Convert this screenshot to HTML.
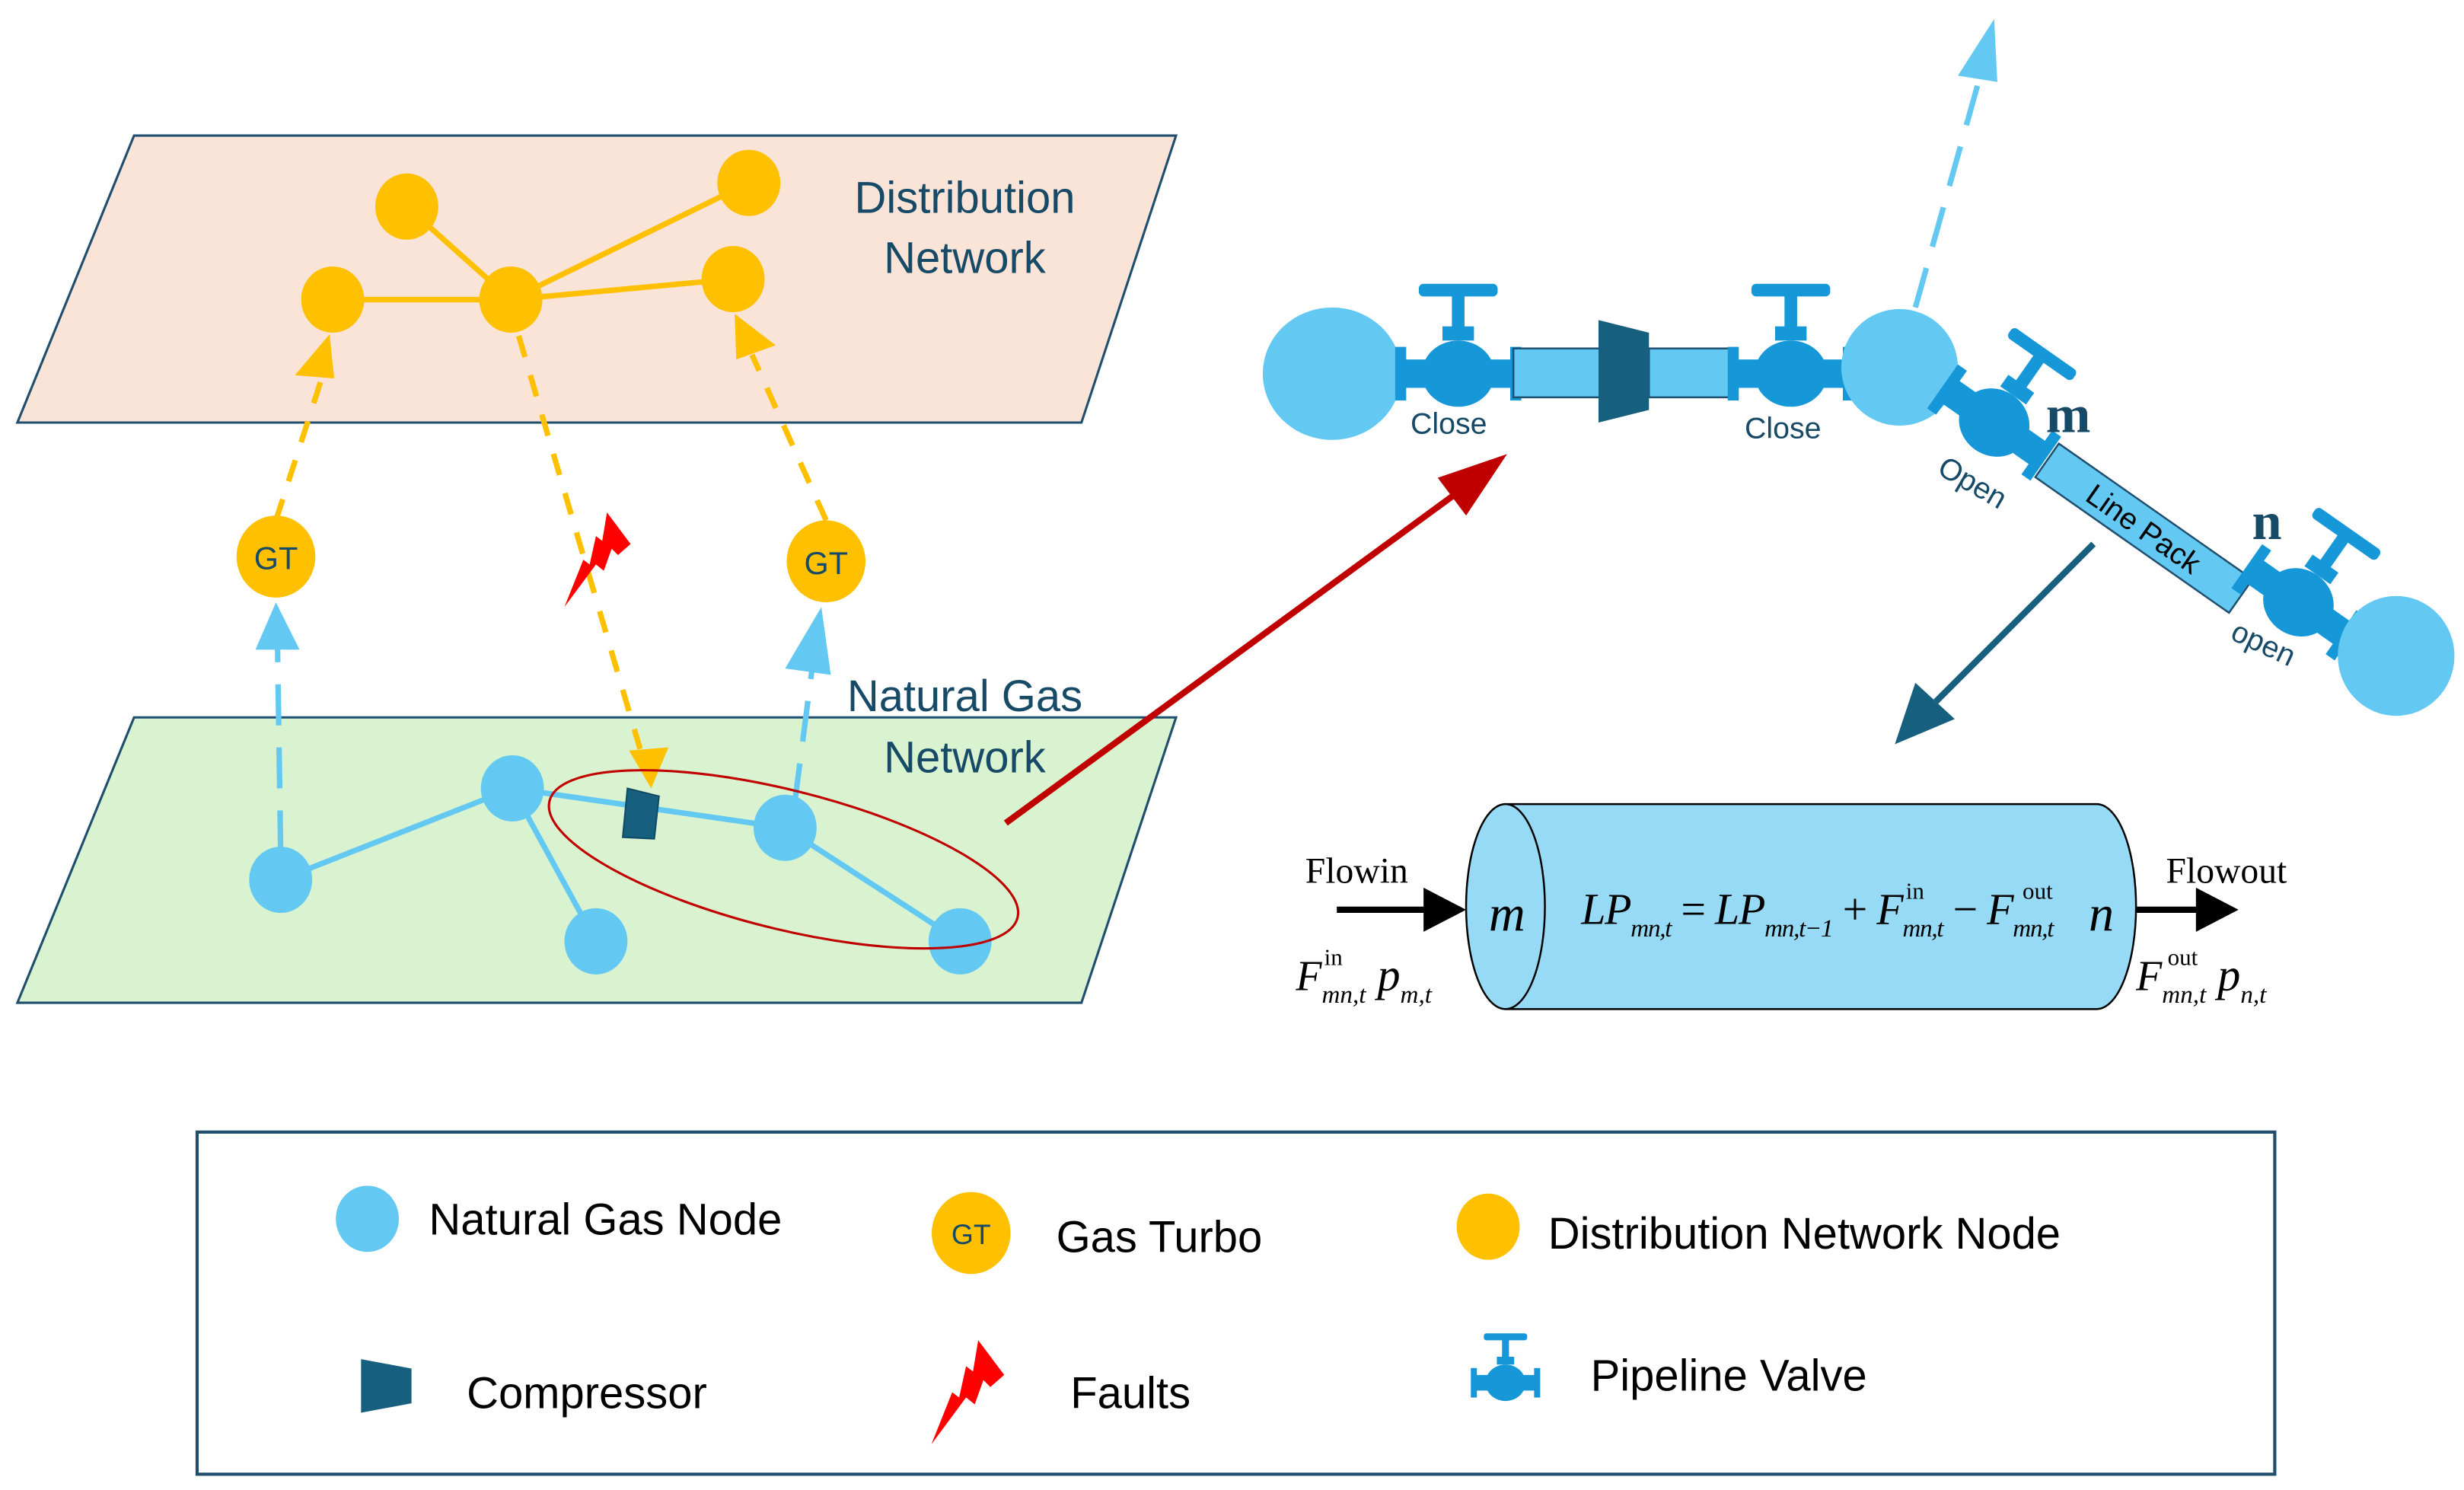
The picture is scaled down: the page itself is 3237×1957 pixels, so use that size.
<!DOCTYPE html>
<html><head><meta charset="utf-8"><style>
html,body{margin:0;padding:0;background:#fff;}
svg{display:block;}
.t{font-family:"Liberation Sans","DejaVu Sans",sans-serif;fill:#174a66;}
.s{font-family:"Liberation Serif",serif;fill:#000;}
.l{font-family:"Liberation Sans","DejaVu Sans",sans-serif;fill:#000;font-size:28px;}
</style></head><body>
<svg width="3237" height="1957" viewBox="0 0 1563 945" xmlns="http://www.w3.org/2000/svg">
<defs>
<g id="valve">
  <rect x="-25" y="-57" width="50" height="8" rx="3" fill="#1597d8"/>
  <rect x="-4" y="-50" width="8" height="22" fill="#1597d8"/>
  <rect x="-10" y="-30" width="20" height="9" fill="#1597d8"/>
  <rect x="-38" y="-9" width="76" height="18" fill="#1597d8"/>
  <ellipse cx="0" cy="0" rx="23" ry="21" fill="#1597d8"/>
  <rect x="-40" y="-17" width="7" height="34" fill="#1597d8"/>
  <rect x="33" y="-17" width="7" height="34" fill="#1597d8"/>
</g>
<g id="bolt">
  <polygon points="5,-30 20,-10 12,-3 8,-7 3,7 -2,3 -22,30 -10,0 -6,3 -2,-15 2,-12" fill="#ff0000"/>
</g>
</defs>

<polygon points="85,86 746,86 686,268 11,268" fill="#fae3d7" stroke="#1f4e6e" stroke-width="1.5"/>
<polygon points="85,455 746,455 686,636 11,636" fill="#d9f2d0" stroke="#1f4e6e" stroke-width="1.5"/>

<text class="t" x="612" y="135" font-size="28" text-anchor="middle">Distribution</text>
<text class="t" x="612" y="173" font-size="28" text-anchor="middle">Network</text>
<text class="t" x="612" y="451" font-size="28" text-anchor="middle">Natural Gas</text>
<text class="t" x="612" y="490" font-size="28" text-anchor="middle">Network</text>

<g stroke="#ffc000" stroke-width="3.5">
<line x1="211" y1="190" x2="324" y2="190"/>
<line x1="258" y1="131" x2="324" y2="190"/>
<line x1="324" y1="190" x2="475" y2="116"/>
<line x1="324" y1="190" x2="465" y2="177"/>
</g>
<g fill="#ffc000">
<ellipse cx="258" cy="131" rx="20" ry="21"/>
<ellipse cx="475" cy="116" rx="20" ry="21"/>
<ellipse cx="211" cy="190" rx="20" ry="21"/>
<ellipse cx="324" cy="190" rx="20" ry="21"/>
<ellipse cx="465" cy="177" rx="20" ry="21"/>
</g>

<g stroke="#ffc000" stroke-width="3.5" stroke-dasharray="14,12" fill="none">
<line x1="175" y1="330" x2="205" y2="237"/>
<line x1="524" y1="330" x2="477" y2="225"/>
<line x1="329" y1="213" x2="406" y2="475"/>
</g>
<g fill="#ffc000">
<polygon points="209,212 187,238 212,240"/>
<polygon points="466,199 467,228 492,219"/>
<polygon points="413,500 399,476 424,474"/>
</g>

<g stroke="#63c9f2" stroke-width="3.5" stroke-dasharray="26,14" fill="none">
<line x1="178" y1="540" x2="176" y2="410"/>
<line x1="504" y1="510" x2="515" y2="425"/>
</g>
<g fill="#63c9f2">
<polygon points="175,382 162,412 190,412"/>
<polygon points="521,385 498,424 527,428"/>
</g>

<ellipse cx="175" cy="353" rx="25" ry="26" fill="#ffc000"/>
<ellipse cx="524" cy="356" rx="25" ry="26" fill="#ffc000"/>
<text class="t" x="175" y="361" font-size="20" text-anchor="middle">GT</text>
<text class="t" x="524" y="364" font-size="20" text-anchor="middle">GT</text>

<use href="#bolt" transform="translate(380,355)"/>

<g stroke="#63c9f2" stroke-width="3.5">
<line x1="178" y1="558" x2="325" y2="500"/>
<line x1="325" y1="500" x2="378" y2="597"/>
<line x1="325" y1="500" x2="498" y2="525"/>
<line x1="498" y1="525" x2="609" y2="597"/>
</g>
<g fill="#63c9f2">
<ellipse cx="178" cy="558" rx="20" ry="21"/>
<ellipse cx="325" cy="500" rx="20" ry="21"/>
<ellipse cx="378" cy="597" rx="20" ry="21"/>
<ellipse cx="498" cy="525" rx="20" ry="21"/>
<ellipse cx="609" cy="597" rx="20" ry="21"/>
</g>
<polygon points="398,500 418,505 415,532 395,531" fill="#175f7e" stroke="#0f4a66" stroke-width="1"/>

<ellipse cx="497" cy="545" rx="153" ry="44" transform="rotate(14 497 545)" fill="none" stroke="#c00000" stroke-width="1.5"/>
<line x1="638" y1="522" x2="925" y2="312" stroke="#c00000" stroke-width="4"/>
<polygon points="956,288 912,303 930,327" fill="#c00000"/>

<g stroke="#63c9f2" stroke-width="3.5" stroke-dasharray="26,14" fill="none">
<line x1="1215" y1="195" x2="1257" y2="45"/>
</g>
<polygon points="1265,12 1242,48 1267,52" fill="#63c9f2"/>

<ellipse cx="845" cy="237" rx="44" ry="42" fill="#63c9f2"/>
<use href="#valve" transform="translate(925,237)"/>
<rect x="960" y="221" width="55" height="31" fill="#63c9f2" stroke="#1f4e6e" stroke-width="1.2"/>
<rect x="1046" y="221" width="55" height="31" fill="#63c9f2" stroke="#1f4e6e" stroke-width="1.2"/>
<polygon points="1014,203 1046,211 1046,260 1014,268" fill="#175f7e"/>
<use href="#valve" transform="translate(1136,237)"/>
<ellipse cx="1205" cy="233" rx="37" ry="37" fill="#63c9f2"/>
<text class="t" x="919" y="275" font-size="19" text-anchor="middle">Close</text>
<text class="t" x="1131" y="278" font-size="19" text-anchor="middle">Close</text>

<g transform="translate(1265,268) rotate(35)">
  <use href="#valve"/>
</g>
<g transform="translate(1360,335) rotate(35)">
  <rect x="-75" y="-13" width="150" height="26" fill="#63c9f2" stroke="#1f4e6e" stroke-width="1.2"/>
  <text x="0" y="7" font-size="19" text-anchor="middle" font-family="Liberation Sans,DejaVu Sans,sans-serif" fill="#000">Line Pack</text>
</g>
<g transform="translate(1458,382) rotate(35)">
  <use href="#valve"/>
</g>
<ellipse cx="1520" cy="416" rx="37" ry="38" fill="#63c9f2"/>
<text x="1312" y="274" font-size="34" font-weight="bold" font-family="Liberation Serif,serif" fill="#174a66" text-anchor="middle">m</text>
<text x="1438" y="342" font-size="34" font-weight="bold" font-family="Liberation Serif,serif" fill="#174a66" text-anchor="middle">n</text>
<text class="t" font-size="19" transform="translate(1228,300) rotate(30)">Open</text>
<text class="t" font-size="19" transform="translate(1414,405) rotate(25)">open</text>

<line x1="1328" y1="345" x2="1228" y2="445" stroke="#175f7e" stroke-width="4"/>
<polygon points="1202,472 1215,433 1240,456" fill="#175f7e"/>

<path d="M955,510 L1330,510 A25,65 0 0 1 1330,640 L955,640 Z" fill="#97daf5" stroke="#000" stroke-width="1.2"/>
<ellipse cx="955" cy="575" rx="25" ry="65" fill="#97daf5" stroke="#000" stroke-width="1.2"/>
<line x1="848" y1="577" x2="905" y2="577" stroke="#000" stroke-width="4"/>
<polygon points="930,577 903,563 903,591" fill="#000"/>
<line x1="1355" y1="577" x2="1395" y2="577" stroke="#000" stroke-width="4"/>
<polygon points="1420,577 1393,563 1393,591" fill="#000"/>
<text class="s" x="828" y="560" font-size="23">Flowin</text>
<text class="s" x="1374" y="560" font-size="23">Flowout</text>
<text class="s" x="956" y="590" font-size="32" font-style="italic" text-anchor="middle">m</text>
<text class="s" x="1333" y="590" font-size="32" font-style="italic" text-anchor="middle">n</text>
<text class="s" x="1003" y="586" font-size="28" font-style="italic" textLength="300">LP<tspan font-size="16" dy="8">mn,t</tspan><tspan font-size="28" font-style="normal" dy="-8"> = </tspan><tspan>LP</tspan><tspan font-size="16" dy="8">mn,t−1</tspan><tspan font-size="28" font-style="normal" dy="-8"> + </tspan><tspan>F</tspan><tspan font-size="16" dy="8">mn,t</tspan><tspan font-size="28" font-style="normal" dy="-8"> − </tspan><tspan>F</tspan><tspan font-size="16" dy="8">mn,t</tspan></text>
<text class="s" x="1209" y="570" font-size="15">in</text>
<text class="s" x="1283" y="570" font-size="15">out</text>
<text class="s" x="822" y="628" font-size="27" font-style="italic">F<tspan font-size="16" dy="8">mn,t</tspan><tspan font-size="29" dy="-8"> p</tspan><tspan font-size="16" dy="8">m,t</tspan></text>
<text class="s" x="840" y="612" font-size="15">in</text>
<text class="s" x="1355" y="628" font-size="27" font-style="italic">F<tspan font-size="16" dy="8">mn,t</tspan><tspan font-size="29" dy="-8"> p</tspan><tspan font-size="16" dy="8">n,t</tspan></text>
<text class="s" x="1375" y="612" font-size="15">out</text>

<rect x="125" y="718" width="1318" height="217" fill="#fff" stroke="#1f4e6e" stroke-width="2"/>
<ellipse cx="233" cy="773" rx="20" ry="21" fill="#63c9f2"/>
<text class="l" x="272" y="783">Natural Gas Node</text>
<ellipse cx="616" cy="782" rx="25" ry="26" fill="#ffc000"/>
<text class="t" x="616" y="789" font-size="18" text-anchor="middle">GT</text>
<text class="l" x="670" y="794">Gas Turbo</text>
<ellipse cx="944" cy="778" rx="20" ry="21" fill="#ffc000"/>
<text class="l" x="982" y="792">Distribution Network Node</text>
<polygon points="229,862 261,868 261,890 229,896" fill="#175f7e"/>
<text class="l" x="296" y="893">Compressor</text>
<use href="#bolt" transform="translate(615,883) scale(1.1)"/>
<text class="l" x="679" y="893">Faults</text>
<use href="#valve" transform="translate(955,877) scale(0.55)"/>
<text class="l" x="1009" y="882">Pipeline Valve</text>
</svg>
</body></html>
